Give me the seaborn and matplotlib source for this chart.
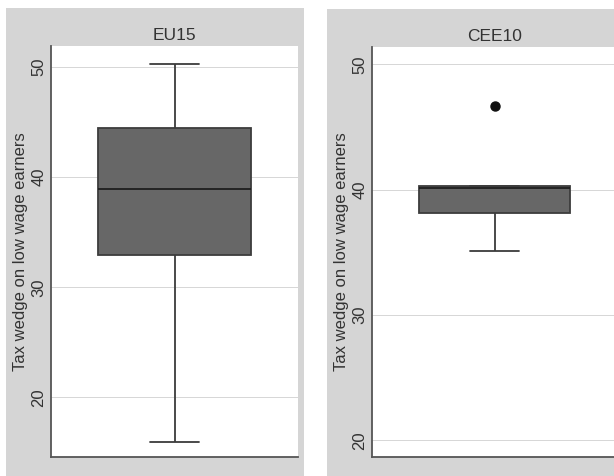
import matplotlib
matplotlib.use("Agg")
import matplotlib.pyplot as plt
from matplotlib.patches import Rectangle
import seaborn as sns
import pandas as pd

# tax wedge values (whisker ends, quartiles, median, outlier)
eu15_values = [16.0, 25.0, 31.0, 32.6, 33.3, 35.5, 37.0, 38.9, 40.5, 42.0, 43.9, 45.0, 46.5, 48.0, 50.3]
cee10_values = [35.1, 37.6, 38.0, 38.5, 40.1, 40.2, 40.2, 40.3, 40.3, 46.7]
group_names = ["EU15", "CEE10"]
y_ticks = [20, 30, 40, 50]
y_label = "Tax wedge on low wage earners"

W, H = 614, 476
panel_gray = "#d5d5d5"
box_gray = "#676767"
line_gray = "#3c3c3c"

sns.set_theme(style="white")
plt.rcParams['font.family'] = ['Liberation Sans', 'DejaVu Sans']

fig = plt.figure(figsize=(W / 100, H / 100), dpi=100)
fig.patch.set_facecolor("white")

def px_box(x0, y0, x1, y1):
    return [x0 / W, 1 - y1 / H, (x1 - x0) / W, (y1 - y0) / H]

# outer grey panels (Stata graph region)
for x0, y0, x1, y1 in [(6, 8, 304, 476), (327, 9, 622, 476)]:
    fig.patches.append(Rectangle((x0 / W, 1 - y1 / H), (x1 - x0) / W, (y1 - y0) / H,
                                 transform=fig.transFigure, facecolor=panel_gray,
                                 edgecolor="none", zorder=-10))

panels = [
    (group_names[0], eu15_values, px_box(51, 46, 298, 457), (14.6, 51.9)),
    (group_names[1], cee10_values, px_box(372, 47, 617, 457), (18.66, 51.38)),
]

for name, values, rect, ylim in panels:
    ax = fig.add_axes(rect)
    ax.set_zorder(1)
    ax.set_facecolor("white")
    df = pd.DataFrame({"group": name, "wedge": values})
    sns.boxplot(data=df, y="wedge", ax=ax, width=0.62, whis=1.5,
                color=box_gray, linecolor=line_gray, linewidth=1.3,
                saturation=1, whiskerprops={"color": line_gray},
                capprops={"color": line_gray}, medianprops={"color": "#1e1e1e"},
                flierprops={"marker": "o", "markerfacecolor": "#111111",
                            "markeredgecolor": "#111111", "markersize": 6.5},
                capwidths=0.2)
    ax.set_xlim(-0.5, 0.5)
    ax.set_ylim(*ylim)
    ax.set_yticks(y_ticks)
    ax.set_yticklabels([str(t) for t in y_ticks], rotation=90, va="center", fontsize=12, color="#333333")
    ax.tick_params(axis="y", length=0, pad=3.5)
    ax.set_xticks([])
    ax.set_xlabel("")
    ax.set_ylabel(y_label, fontsize=12, color="#333333", labelpad=2)
    ax.grid(axis="y", color="#d6d6d6", linewidth=0.7)
    ax.set_axisbelow(True)
    for side in ["top", "right"]:
        ax.spines[side].set_visible(False)
    for side in ["left", "bottom"]:
        ax.spines[side].set_color("#555555")
        ax.spines[side].set_linewidth(1.3)
    ax.set_title(name, fontsize=12.5, color="#333333", pad=4)

fig.savefig("out.png", dpi=100, facecolor=fig.get_facecolor())
